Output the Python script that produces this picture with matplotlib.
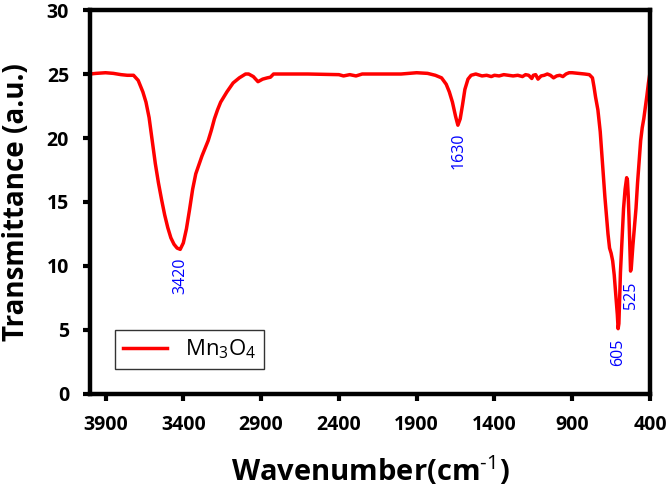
import matplotlib
matplotlib.use('Agg')
import matplotlib.pyplot as plt

# FTIR spectrum of Mn3O4
wavenumber = [4000, 3960, 3900, 3850, 3800, 3760, 3720, 3690, 3660, 3640,
              3620, 3600, 3580, 3560, 3540, 3520, 3500, 3480, 3460, 3440,
              3420, 3400, 3380, 3360, 3340, 3320, 3300, 3280, 3260, 3240,
              3220, 3200, 3180, 3160, 3120, 3080, 3040, 3000, 2980, 2950,
              2920, 2890, 2860, 2840, 2820, 2780, 2600, 2400, 2370, 2330,
              2290, 2250, 2000, 1900, 1830, 1780, 1740, 1710, 1690, 1670,
              1650, 1635, 1620, 1605, 1590, 1570, 1550, 1520, 1480, 1450,
              1420, 1400, 1370, 1340, 1310, 1280, 1250, 1220, 1200, 1180,
              1160, 1150, 1135, 1120, 1100, 1080, 1060, 1040, 1020, 1000,
              980, 960, 940, 920, 900, 860, 820, 790, 770, 760,
              750, 735, 720, 710, 700, 690, 680, 670, 660, 650,
              640, 630, 620, 610, 605, 600, 595, 590, 580, 570,
              560, 550, 545, 540, 535, 530, 525, 520, 510, 500,
              490, 480, 470, 460, 450, 440, 430, 420, 410, 400]
transmittance = [25.0, 25.05, 25.1, 25.05, 24.95, 24.9, 24.9, 24.5, 23.6, 22.8,
                 21.6, 19.8, 18.0, 16.5, 15.2, 14.0, 13.0, 12.2, 11.7, 11.4,
                 11.3, 11.8, 12.9, 14.4, 16.0, 17.2, 17.9, 18.6, 19.2, 19.8,
                 20.6, 21.5, 22.2, 22.8, 23.6, 24.3, 24.7, 25.0, 25.0, 24.8,
                 24.4, 24.6, 24.7, 24.75, 25.0, 25.0, 25.0, 24.95, 24.85, 24.95,
                 24.85, 25.0, 25.0, 25.1, 25.05, 24.9, 24.7, 24.2, 23.6, 22.8,
                 21.7, 21.0, 21.5, 22.6, 23.8, 24.6, 24.9, 25.0, 24.85, 24.9,
                 24.8, 24.9, 24.85, 24.95, 24.9, 24.85, 24.9, 24.8, 24.95, 24.9,
                 24.65, 24.9, 24.95, 24.6, 24.85, 24.9, 25.0, 24.9, 24.7, 24.85,
                 24.9, 24.8, 25.0, 25.1, 25.1, 25.05, 25.0, 24.95, 24.7, 24.0,
                 23.2, 22.2, 20.5, 18.8, 17.0, 15.4, 14.0, 12.5, 11.4, 11.0,
                 10.4, 9.3, 7.8, 6.2, 5.1, 5.5, 7.5, 9.5, 12.0, 14.5,
                 16.0, 16.9, 16.7, 15.5, 13.8, 11.6, 9.6, 9.9, 11.6, 13.0,
                 14.5, 16.5, 18.2, 19.8, 20.8, 21.5, 22.4, 23.3, 24.3, 25.1]

# peak labels: position and text height
peak_x = [3420, 1630, 605, 525]
peak_y = [10.7, 20.4, 4.3, 8.8]
peak_text = ['3420', '1630', '605', '525']

xticks = [3900, 3400, 2900, 2400, 1900, 1400, 900, 400]
yticks = [0, 5, 10, 15, 20, 25, 30]

plt.rcParams['font.family'] = ['Open Sans', 'DejaVu Sans']
plt.rcParams['mathtext.fontset'] = 'custom'
plt.rcParams['mathtext.rm'] = 'Open Sans'
plt.rcParams['mathtext.it'] = 'Open Sans'
plt.rcParams['mathtext.bf'] = 'Open Sans:bold'

fig = plt.figure(figsize=(6.69, 4.91), dpi=100)
ax = fig.add_axes([0.1345, 0.1976, 0.8371, 0.782])

ax.plot(wavenumber, transmittance, color='#ff0000', linewidth=2.5,
        label=r'Mn$_{3}$O$_{4}$')

for x, y, t in zip(peak_x, peak_y, peak_text):
    ax.text(x, y, t, rotation=90, color='#0000ff', fontsize=11.5,
            ha='center', va='top')

ax.set_xlim(4000, 400)
ax.set_ylim(0, 30)
ax.set_xticks(xticks)
ax.set_yticks(yticks)

for s in ax.spines.values():
    s.set_linewidth(3.2)
ax.tick_params(direction='out', length=5, width=3, pad=10)
for lbl in ax.get_xticklabels() + ax.get_yticklabels():
    lbl.set_fontsize(14)
    lbl.set_fontweight('bold')

ax.set_xlabel(r'Wavenumber(cm$^{\mathbf{\text{-1}}}$)', fontsize=21, fontweight='bold', labelpad=14)
ax.set_ylabel('Transmittance (a.u.)', fontsize=20, fontweight='bold', labelpad=11)

leg = ax.legend(loc='lower left', bbox_to_anchor=(0.045, 0.065), fontsize=16,
                frameon=True, fancybox=False, handlelength=2.0, borderpad=0.35,
                borderaxespad=0)
leg.get_frame().set_edgecolor('black')
leg.get_frame().set_linewidth(1.0)

plt.savefig('out.png', dpi=100)
